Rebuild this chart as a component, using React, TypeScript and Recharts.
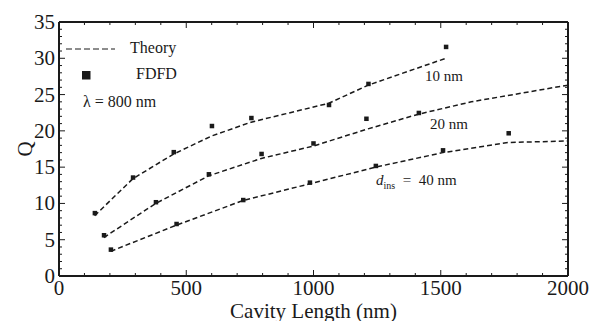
import React from 'react';
import {
  ComposedChart,
  Scatter,
  XAxis,
  YAxis,
  ReferenceLine,
} from 'recharts';

// cavity lengths (nm) and Q values
const len10 = [140, 290, 450, 600, 755, 1060, 1215, 1520];
const fdfd10 = [8.7, 13.6, 17.1, 20.7, 21.8, 23.6, 26.5, 31.6];
const theoryLen10 = [140, 290, 450, 600, 755, 1060, 1215, 1520];
const theory10 = [8.3, 13.4, 16.8, 19.3, 21.2, 23.8, 26.3, 30.0];

const len20 = [176, 380, 588, 795, 999, 1207, 1413];
const fdfd20 = [5.65, 10.2, 14.05, 16.85, 18.3, 21.7, 22.5];
const theoryLen20 = [176, 380, 588, 795, 999, 1207, 1413, 1620, 2000];
const theory20 = [5.3, 10.0, 13.8, 16.2, 17.9, 20.2, 22.3, 24.0, 26.3];

const len40 = [203, 461, 723, 985, 1244, 1508, 1766];
const fdfd40 = [3.67, 7.2, 10.5, 12.9, 15.2, 17.35, 19.7];
const theoryLen40 = [203, 461, 723, 985, 1244, 1508, 1766, 2000];
const theory40 = [3.4, 7.0, 10.4, 12.7, 15.0, 17.0, 18.4, 18.6];

const xTicks = [0, 500, 1000, 1500, 2000];
const yTicks = [0, 5, 10, 15, 20, 25, 30, 35];

const toPts = (xs: number[], ys: number[]) => xs.map((x, i) => ({ x, y: ys[i] }));

const INK = '#1a1a1a';
const SERIF = 'Liberation Serif';

const Square = (props: any) => {
  const { cx, cy } = props;
  if (cx == null || cy == null) return <g />;
  return <rect x={cx - 2} y={cy - 2} width={4.5} height={4.5} fill={INK} />;
};

const NoShape = () => <g />;

const XTick = ({ x, y, payload }: any) => (
  <text x={x} y={y + 17} textAnchor="middle" fontSize={21} fontFamily={SERIF} fill={INK}>
    {payload.value}
  </text>
);

const YTick = ({ x, y, payload }: any) => (
  <text x={x - 2} y={y + 7} textAnchor="end" fontSize={21} fontFamily={SERIF} fill={INK}>
    {payload.value}
  </text>
);

// minor/major tick marks on all four sides of the frame (pointing inward)
const xMinor: number[] = [];
for (let v = 100; v < 2000; v += 100) xMinor.push(v);
const yMinor: number[] = [];
for (let v = 1; v < 35; v += 1) yMinor.push(v);

const X_PER_PX = 2000 / 509;
const Y_PER_PX = 35 / 254;

export default function App() {
  const tickLines: React.ReactNode[] = [];
  xMinor.forEach((v) => {
    const major = v % 500 === 0;
    const h = (major ? 6 : 3) * Y_PER_PX;
    tickLines.push(
      <ReferenceLine key={'xb' + v} segment={[{ x: v, y: 0 }, { x: v, y: h }]} stroke={INK} strokeWidth={1} />,
      <ReferenceLine key={'xt' + v} segment={[{ x: v, y: 35 }, { x: v, y: 35 - h }]} stroke={INK} strokeWidth={1} />
    );
  });
  yMinor.forEach((v) => {
    const major = v % 5 === 0;
    const w = (major ? 6 : 3) * X_PER_PX;
    tickLines.push(
      <ReferenceLine key={'yl' + v} segment={[{ x: 0, y: v }, { x: w, y: v }]} stroke={INK} strokeWidth={1} />,
      <ReferenceLine key={'yr' + v} segment={[{ x: 2000, y: v }, { x: 2000 - w, y: v }]} stroke={INK} strokeWidth={1} />
    );
  });

  const dash = { stroke: INK, strokeWidth: 1.5, strokeDasharray: '5 3' };

  return (
    <div style={{ position: 'absolute', left: 0, top: 0, width: 599, height: 321, background: '#fff', fontFamily: SERIF, color: INK }}>
      <ComposedChart width={599} height={321} margin={{ top: 22, right: 31, left: 0, bottom: 0 }}>
        <XAxis
          dataKey="x"
          type="number"
          domain={[0, 2000]}
          ticks={xTicks}
          tickLine={false}
          tickSize={0}
          axisLine={{ stroke: INK, strokeWidth: 2 }}
          tick={<XTick />}
          height={45}
          allowDataOverflow
        />
        <YAxis
          dataKey="y"
          type="number"
          domain={[0, 35]}
          ticks={yTicks}
          tickLine={false}
          tickSize={0}
          axisLine={{ stroke: INK, strokeWidth: 2 }}
          tick={<YTick />}
          width={59}
          allowDataOverflow
        />
        <ReferenceLine y={35} stroke={INK} strokeWidth={2} />
        <ReferenceLine x={2000} stroke={INK} strokeWidth={2} />
        {tickLines}

        <Scatter data={toPts(theoryLen10, theory10)} line={dash} shape={<NoShape />} isAnimationActive={false} />
        <Scatter data={toPts(theoryLen20, theory20)} line={dash} shape={<NoShape />} isAnimationActive={false} />
        <Scatter data={toPts(theoryLen40, theory40)} line={dash} shape={<NoShape />} isAnimationActive={false} />

        <Scatter data={toPts(len10, fdfd10)} shape={<Square />} isAnimationActive={false} />
        <Scatter data={toPts(len20, fdfd20)} shape={<Square />} isAnimationActive={false} />
        <Scatter data={toPts(len40, fdfd40)} shape={<Square />} isAnimationActive={false} />
      </ComposedChart>

      {/* legend */}
      <svg style={{ position: 'absolute', left: 66, top: 44 }} width={50} height={40}>
        <line x1={0} y1={5} x2={49} y2={5} stroke={INK} strokeWidth={1} strokeDasharray="6 3" />
        <rect x={16} y={27} width={8.5} height={8.5} fill={INK} />
      </svg>
      <div style={{ position: 'absolute', left: 130, top: 38, fontSize: 16, lineHeight: '20px' }}>Theory</div>
      <div style={{ position: 'absolute', left: 136, top: 64, fontSize: 16, lineHeight: '20px' }}>FDFD</div>
      <div style={{ position: 'absolute', left: 83, top: 92, fontSize: 16, lineHeight: '20px' }}>λ = 800 nm</div>

      {/* curve annotations */}
      <div style={{ position: 'absolute', left: 425, top: 66, fontSize: 15, lineHeight: '20px' }}>10 nm</div>
      <div style={{ position: 'absolute', left: 430, top: 114, fontSize: 15, lineHeight: '20px' }}>20 nm</div>
      <div style={{ position: 'absolute', left: 376, top: 170, fontSize: 15, lineHeight: '20px', whiteSpace: 'nowrap' }}>
        <i>d</i><sub style={{ fontSize: 10, lineHeight: 0 }}>ins</sub>&nbsp;&nbsp;=&nbsp;&nbsp;40 nm
      </div>

      {/* axis titles */}
      <div style={{ position: 'absolute', left: 0, width: 627, top: 301, textAlign: 'center', fontSize: 21, lineHeight: '20px' }}>
        Cavity Length (nm)
      </div>
      <div
        style={{
          position: 'absolute',
          left: 25,
          top: 149,
          fontSize: 21,
          lineHeight: '22px',
          transform: 'translate(-50%, -50%) rotate(-90deg)',
        }}
      >
        Q
      </div>
    </div>
  );
}
